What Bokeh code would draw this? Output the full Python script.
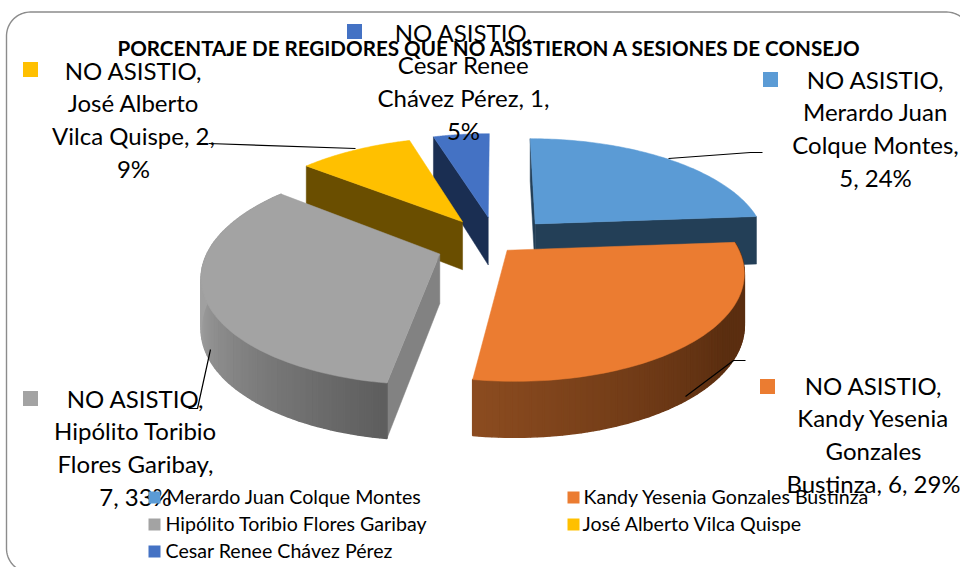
import numpy as np
from bokeh.plotting import figure
from bokeh.models import Range1d
from bokeh.core.properties import value
from bokeh.embed import file_html
from bokeh.resources import INLINE

FONT = "Lato"
title = "PORCENTAJE DE REGIDORES QUE NO ASISTIERON A SESIONES DE CONSEJO"
names = ["Merardo Juan Colque Montes", "Kandy Yesenia Gonzales Bustinza",
         "Hipólito Toribio Flores Garibay", "José Alberto Vilca Quispe", "Cesar Renee Chávez Pérez"]
values = [5, 6, 7, 2, 1]
colors = ["#5B9BD5", "#EB7C31", "#A3A3A3", "#FFC000", "#4472C4"]
side_colors = ["#233F57", "#5E3014", "#828282", "#6A4E00", "#1A2E52"]
wall_from = ["#233F57", "#5B2E10", "#A0A0A0", "#6A4E00", "#1A2E52"]
wall_to = ["#233F57", "#8C4C20", "#5E5E5E", "#6A4E00", "#1A2E52"]
label_lines = [
    ["NO ASISTIO,", "Merardo Juan", "Colque Montes,", "5, 24%"],
    ["NO ASISTIO,", "Kandy Yesenia", "Gonzales", "Bustinza, 6, 29%"],
    ["NO ASISTIO,", "Hipólito Toribio", "Flores Garibay,", "7, 33%"],
    ["NO ASISTIO,", "José Alberto", "Vilca Quispe, 2,", "9%"],
    ["NO ASISTIO,", "Cesar Renee", "Chávez Pérez, 1,", "5%"],
]
label_cx = [875, 873, 135, 133, 463]
label_y0 = [78.5, 384.5, 397.5, 69.5, 31.5]
label_mark = [(770, 79), (767, 386), (30, 398), (30, 69), (354, 31)]
leaders = [
    ([668, 750, 762], [158, 152, 152]),
    ([685, 733, 745], [396, 360, 360]),
    ([210, 197, 188], [349, 408, 408]),
    ([208, 355], [143, 148]),
]
legend_mark = [(154, 497), (573, 497), (154, 524), (573, 524), (154, 551)]
legend_text_x = [166, 583, 165, 582, 165]

# perspective model of the pie, with a small per-slice adjustment
cx, cy, A, B, k, E = 490, 237, 225, 106, 0.18, 0.22
slice_dx = [11, -18, -3, 0, 5]
slice_dy = [3, -4, 8, 3, 2]
slice_sx = [1.03, 1.0, 1.02, 1.035, 1.02]
slice_sy = [1.0, 0.95, 0.98, 1.0, 1.0]

def depth(Z):
    return 49 - 6 * Z

def hex2rgb(h):
    return np.array([int(h[i:i + 2], 16) for i in (1, 3, 5)], float)

def mix(a, b, t):
    c = hex2rgb(a) * (1 - t) + hex2rgb(b) * t
    return "#%02x%02x%02x" % tuple(int(round(v)) for v in c)

total = sum(values)
edges = np.concatenate([[0], np.cumsum(values)]) / total * 2 * np.pi

p = figure(width=960, height=567, x_range=Range1d(0, 960), y_range=Range1d(567, 0),
           output_backend="svg", toolbar_location=None, min_border=0,
           x_axis_location=None, y_axis_location=None, outline_line_color=None,
           background_fill_color="white", border_fill_color="white")
p.grid.visible = False

# rounded frame
fx0, fy0, fx1, fy1, fr = 6, 11.5, 970, 572, 24
t = np.linspace(0, np.pi / 2, 20)
frame_x = np.concatenate([fx0 + fr - fr * np.cos(t), fx1 - fr + fr * np.sin(t),
                          fx1 - fr + fr * np.cos(t), fx0 + fr - fr * np.sin(t), [fx0]])
frame_y = np.concatenate([fy0 + fr - fr * np.sin(t), fy0 + fr - fr * np.cos(t),
                          fy1 - fr + fr * np.sin(t), fy1 - fr + fr * np.cos(t), [fy0 + fr]])
p.line(frame_x, frame_y, line_color="#8C8C8C", line_width=1.4)

def draw_slice(i):
    a0, a1 = edges[i], edges[i + 1]
    b = (a0 + a1) / 2
    ox, oz = E * np.sin(b), E * np.cos(b)

    def proj(X, Z):
        s = 1 / (1 + k * Z)
        px = cx + A * slice_sx[i] * X * s + slice_dx[i]
        py = cy - B * slice_sy[i] * Z * s + slice_dy[i]
        return px, py, depth(Z)

    th = np.linspace(a0, a1, 80)
    x, y, d = proj(ox + np.sin(th), oz + np.cos(th))
    ax, ay, ad = proj(np.array([ox]), np.array([oz]))
    # radial faces
    for e in (0, -1):
        if (i, e) in ((0, -1), (2, 0), (3, 0), (4, 0), (0, 0)):
            p.patch([ax[0], x[e], x[e], ax[0]], [ay[0], y[e], y[e] + d[e], ay[0] + ad[0]],
                    fill_color=side_colors[i], line_color=side_colors[i], line_width=0.5)
    # outer wall, shaded strip by strip
    if i in (1, 2):
        n = len(th) - 1
        if i == 1:
            cs = [mix(wall_from[i], wall_to[i], max(0, j - 30) / 49) for j in range(n)]
        else:
            cs = [mix(wall_to[i], wall_from[i], min(1, j / 45)) for j in range(n)]
        xs = [[x[j], x[j + 1], x[j + 1], x[j]] for j in range(n)]
        ys = [[y[j], y[j + 1], y[j + 1] + d[j + 1], y[j] + d[j]] for j in range(n)]
        p.patches(xs, ys, fill_color=cs, line_color=cs, line_width=1.5)
    # top surface
    p.patch(np.r_[ax, x], np.r_[ay, y], fill_color=colors[i], line_color=colors[i], line_width=0.5)

for i in [4, 0, 3, 2, 1]:
    draw_slice(i)

for xs, ys in leaders:
    p.line(xs, ys, line_color="black", line_width=1.2)

# data labels
for i, lines in enumerate(label_lines):
    ys = [label_y0[i] + 32.7 * n for n in range(len(lines))]
    p.text([label_cx[i]] * 4, ys, text=lines, text_font=value(FONT), text_font_size="24px",
           text_align="center", text_baseline="middle", text_color="black")
    mx, my = label_mark[i]
    p.rect([mx], [my], 15, 15, fill_color=colors[i], line_color=None)

p.text([489], [47], text=[title], text_font=value(FONT), text_font_style="bold",
       text_font_size="20.6px", text_align="center", text_baseline="middle", text_color="black")

# legend
for i, n in enumerate(names):
    mx, my = legend_mark[i]
    p.rect([mx], [my], 12, 12, fill_color=colors[i], line_color=None)
    p.text([legend_text_x[i]], [my - 1], text=[n], text_font=value(FONT), text_font_size="19.6px",
           text_align="left", text_baseline="middle", text_color="black")

open("out.html", "w").write(file_html(p, INLINE))
